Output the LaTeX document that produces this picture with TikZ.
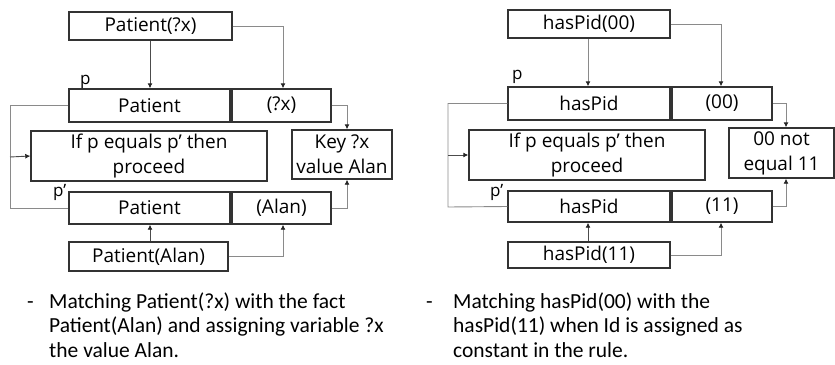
\documentclass[tikz,border=0pt]{standalone}
\usepackage{fontspec}
\setmainfont{Carlito}
\newfontfamily\boxfont{Open Sans}
\usetikzlibrary{arrows.meta}
\definecolor{boxline}{HTML}{333333}
\definecolor{conn}{HTML}{8A8A8A}
\tikzset{
  bx/.style={draw=boxline, line width=1.4pt, inner sep=0pt, font=\boxfont\fontsize{19}{25}\selectfont, align=center},
  cn/.style={draw=conn, line width=0.9pt, -{Latex[length=5pt,width=5pt,color=black!85]}},
  cnd/.style={draw=black!70, line width=0.9pt, -{Latex[length=5pt,width=5pt,color=black!85]}},
  lbl/.style={font=\boxfont\fontsize{17}{20}\selectfont, inner sep=0pt, anchor=base west},
  note/.style={font=\fontsize{21.5}{24.5}\selectfont, align=left, anchor=north west, inner sep=0pt}
}
\newcommand{\bxat}[6]{\node[bx, minimum width=#4pt-#2pt, minimum height=#5pt-#3pt] (#1) at ({(#2+#4)/2},{(#3+#5)/2}) {#6};}
\begin{document}
\begin{tikzpicture}[x=1pt,y=-1pt]
\useasboundingbox (0,0) rectangle (835,364);
% ---------- left diagram ----------
\bxat{Ltop}{69}{12}{232}{40}{Patient(?x)}
\bxat{Lp}{69}{89}{230}{122}{Patient}
\bxat{Lpx}{232}{89}{331}{122}{(?x)}
\bxat{Lif}{31}{131}{267}{181}{If p equals p’ then\\proceed}
\bxat{Lkey}{292}{130}{392}{179}{Key ?x\\value Alan}
\bxat{Lq}{69}{192}{230}{224}{Patient}
\bxat{Lqa}{232}{192}{331}{224}{(Alan)}
\bxat{Lbot}{69}{242}{228}{271}{Patient(Alan)}
\node[lbl] (Llp) at (80,84) {p};
\node[lbl] (Llq) at (53,196) {p’};
\coordinate (Lleft) at (10,157);
\draw[cnd] (Ltop.south -| 150,0) -- (Lp.north -| 150,0);
\draw[cn] (Ltop.east) -| (Lpx.north -| 283,0);
\draw[cn] (Lpx.east) -| (Lkey.north -| 347,0);
\draw[cn] (Lqa.east) -| (Lkey.south -| 347,0);
\draw[cnd] (Lbot.north -| 150,0) -- (Lq.south -| 150,0);
\draw[cn] (Lbot.east) -| (Lqa.south -| 283,0);
\draw[draw=conn, line width=0.9pt] (Lp.west) -| (10,208) -- (Lq.west);
\draw[cnd] (Lleft) -- (Lif.west);
% ---------- right diagram ----------
\bxat{Rtop}{508}{10}{670}{38}{hasPid(00)}
\bxat{Rp}{508}{87}{670}{120}{hasPid}
\bxat{Rpx}{672}{87}{772}{120}{(00)}
\bxat{Rif}{469}{130}{705}{180}{If p equals p’ then\\proceed}
\bxat{Rkey}{729}{128}{834}{178}{00 not\\equal 11}
\bxat{Rq}{508}{191}{670}{222}{hasPid}
\bxat{Rqa}{672}{191}{772}{222}{(11)}
\bxat{Rbot}{508}{242}{670}{268}{hasPid(11)}
\node[lbl] (Rlp) at (512,79) {p};
\node[lbl] (Rlq) at (490,196) {p’};
\coordinate (Rleft) at (448,155);
\draw[cn] (Rtop.south -| 588,0) -- (Rp.north -| 588,0);
\draw[cn] (Rtop.east) -| (Rpx.north -| 721,0);
\draw[cn] (Rpx.east) -| (Rkey.north -| 786,0);
\draw[cn] (Rqa.east) -| (Rkey.south -| 786,0);
\draw[cnd] (Rbot.north -| 588,0) -- (Rq.south -| 588,0);
\draw[cn] (Rbot.east) -| (Rqa.south -| 721,0);
\draw[draw=conn, line width=0.9pt] (Rp.west) -| (448,207) -- (Rq.west);
\draw[cnd] (Rleft) -- (Rif.west);
% ---------- notes ----------
\node[note] (Ld) at (27,291) {\strut-};
\node[note] (Lt) at (49,291) {\strut Matching Patient(?x) with the fact\\Patient(Alan) and assigning variable ?x\\the value Alan.};
\node[note] (Rd) at (426,291) {\strut-};
\node[note] (Rt) at (453,291) {\strut Matching hasPid(00) with the\\hasPid(11) when Id is assigned as\\constant in the rule.};
\end{tikzpicture}
\end{document}
